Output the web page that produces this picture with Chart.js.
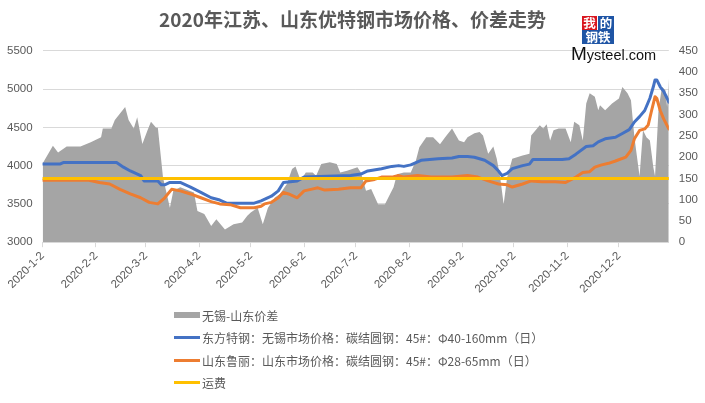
<!DOCTYPE html>
<html>
<head>
<meta charset="utf-8">
<script src="https://cdn.jsdelivr.net/npm/chart.js@4.4.1/dist/chart.umd.min.js"></script>
<style>
html,body{margin:0;padding:0;background:#fff;}
#wrap{position:relative;width:705px;height:403px;overflow:hidden;background:#fff;}
#c{position:absolute;left:0;top:0;}
#legend{position:absolute;left:174px;top:304px;font-family:"Noto Sans CJK SC";font-size:12px;color:#595959;}
.li{display:flex;align-items:center;height:22.5px;white-space:nowrap;}
.sw{width:26px;margin-right:2px;}
#logo{position:absolute;left:570px;top:15px;width:90px;height:52px;}
.lg{position:absolute;color:#fff;font-family:"Noto Sans CJK SC";font-size:12.5px;line-height:14px;text-align:center;font-weight:bold;}
#mys{position:absolute;left:1px;top:28px;font-family:"Liberation Sans";color:#111;white-space:nowrap;}
</style>
</head>
<body>
<div id="wrap">
  <canvas id="c" width="705" height="403"></canvas>
  <div id="legend"></div>
  <div id="logo">
    <div class="lg" style="left:12px;top:1px;width:15px;height:14px;background:#d9161f;">我</div>
    <div class="lg" style="left:28px;top:1px;width:16px;height:14px;background:#1f55a5;">的</div>
    <div class="lg" style="left:12px;top:15px;width:32px;height:14px;background:#1f55a5;">钢铁</div>
    <div id="mys"><span style="font-size:19px;">M</span><span style="font-size:14.5px;">ysteel.com</span></div>
  </div>
</div>
<script>
// ---------- data ----------
const title = '2020年江苏、山东优特钢市场价格、价差走势';
const tickLabels = ['2020-1-2','2020-2-2','2020-3-2','2020-4-2','2020-5-2','2020-6-2','2020-7-2','2020-8-2','2020-9-2','2020-10-2','2020-11-2','2020-12-2'];
const seriesNames = ['无锡-山东价差','东方特钢：无锡市场价格：碳结圆钢：45#：Φ40-160mm（日）','山东鲁丽：山东市场价格：碳结圆钢：45#：Φ28-65mm（日）','运费'];

const spreadDates = [
 '2020-01-02','2020-01-08','2020-01-11','2020-01-16','2020-01-24','2020-01-30',
 '2020-02-05','2020-02-06','2020-02-11','2020-02-13','2020-02-19','2020-02-21','2020-02-24','2020-02-26','2020-02-29',
 '2020-03-03','2020-03-05','2020-03-08','2020-03-09','2020-03-12','2020-03-16','2020-03-18','2020-03-22','2020-03-30',
 '2020-04-01','2020-04-05','2020-04-09','2020-04-12','2020-04-17','2020-04-22','2020-04-27','2020-04-30',
 '2020-05-02','2020-05-06','2020-05-09','2020-05-12','2020-05-16','2020-05-19','2020-05-23','2020-05-26','2020-05-28','2020-05-31',
 '2020-06-03','2020-06-07','2020-06-09','2020-06-12','2020-06-17','2020-06-21','2020-06-23','2020-06-27',
 '2020-07-03','2020-07-05','2020-07-08','2020-07-11','2020-07-15','2020-07-19','2020-07-22','2020-07-24','2020-07-26','2020-07-30',
 '2020-08-03','2020-08-06','2020-08-08','2020-08-12','2020-08-16','2020-08-20','2020-08-23','2020-08-27','2020-08-31',
 '2020-09-03','2020-09-05','2020-09-09','2020-09-12','2020-09-14','2020-09-17','2020-09-20','2020-09-22','2020-09-24','2020-09-26','2020-09-28',
 '2020-10-01','2020-10-07','2020-10-11','2020-10-12','2020-10-17','2020-10-19','2020-10-21','2020-10-23','2020-10-25','2020-10-28',
 '2020-11-01','2020-11-04','2020-11-06','2020-11-09','2020-11-11','2020-11-13','2020-11-15','2020-11-18','2020-11-20','2020-11-21','2020-11-24','2020-11-28',
 '2020-12-02','2020-12-04','2020-12-07','2020-12-09','2020-12-11','2020-12-14','2020-12-16','2020-12-18','2020-12-20','2020-12-22','2020-12-23','2020-12-25','2020-12-27','2020-12-29','2020-12-30','2020-12-31'];
const spreadValues = [
 185,227,211,225,225,235,
 247,267,267,287,318,287,267,294,231,
 263,283,269,269,152,81,121,129,117,
 73,66,38,54,30,42,46,62,
 70,81,42,81,105,113,137,172,178,145,
 164,164,156,184,188,184,164,168,
 176,164,121,125,89,89,113,129,160,164,
 164,192,223,247,247,230,247,267,239,
 235,247,256,259,251,208,225,196,152,89,152,
 196,204,208,251,275,267,277,239,263,267,
 267,235,283,275,239,326,350,342,310,322,310,326,
 338,365,350,334,247,155,263,247,239,176,155,310,365,358,318,385];

const wuxiDates = [
 '2020-01-02','2020-01-12','2020-01-14','2020-02-14','2020-02-18','2020-02-22','2020-02-28',
 '2020-03-01','2020-03-09','2020-03-11','2020-03-13','2020-03-16','2020-03-22','2020-03-28',
 '2020-04-03','2020-04-09','2020-04-14','2020-04-18',
 '2020-05-04','2020-05-08','2020-05-14','2020-05-18','2020-05-21','2020-05-29',
 '2020-06-02','2020-06-29',
 '2020-07-05','2020-07-09','2020-07-17','2020-07-23','2020-07-27','2020-07-30',
 '2020-08-03','2020-08-09','2020-08-19','2020-08-27','2020-08-31',
 '2020-09-05','2020-09-09','2020-09-15','2020-09-20','2020-09-23','2020-09-25','2020-09-28',
 '2020-10-01','2020-10-07','2020-10-11','2020-10-13','2020-10-30',
 '2020-11-03','2020-11-07','2020-11-13','2020-11-17','2020-11-20','2020-11-24','2020-11-30',
 '2020-12-04','2020-12-08','2020-12-11','2020-12-14','2020-12-17','2020-12-20','2020-12-22','2020-12-23','2020-12-24','2020-12-26','2020-12-28','2020-12-30','2020-12-31'];
const wuxiValues = [
 4020,4020,4040,4040,3980,3930,3870,
 3800,3800,3750,3750,3780,3780,3720,
 3650,3580,3550,3510,
 3510,3540,3600,3670,3780,3800,
 3850,3870,
 3890,3930,3960,3990,4000,3990,
 4010,4070,4090,4100,4120,
 4120,4110,4070,4000,3930,3870,3900,
 3960,4000,4020,4080,4080,
 4090,4150,4250,4260,4310,4350,4370,
 4420,4470,4570,4640,4720,4880,5030,5120,5120,5030,4970,4880,4830];

const shandongDates = [
 '2020-01-02','2020-01-29','2020-02-04','2020-02-10','2020-02-16','2020-02-22','2020-02-28',
 '2020-03-04','2020-03-09','2020-03-13','2020-03-17','2020-03-22','2020-03-28',
 '2020-04-03','2020-04-09','2020-04-14','2020-04-20','2020-04-26',
 '2020-05-04','2020-05-08','2020-05-10','2020-05-14','2020-05-18','2020-05-21','2020-05-24','2020-05-29',
 '2020-06-02','2020-06-06','2020-06-10','2020-06-14','2020-06-22','2020-06-29',
 '2020-07-05','2020-07-08','2020-07-13','2020-07-17','2020-07-23','2020-07-27','2020-07-30',
 '2020-08-07','2020-08-15','2020-08-27',
 '2020-09-05','2020-09-11','2020-09-17','2020-09-23','2020-09-28',
 '2020-10-01','2020-10-07','2020-10-12','2020-10-18','2020-10-26',
 '2020-11-01','2020-11-07','2020-11-11','2020-11-15','2020-11-18','2020-11-22','2020-11-26','2020-11-30',
 '2020-12-06','2020-12-09','2020-12-11','2020-12-14','2020-12-17','2020-12-19','2020-12-21','2020-12-23','2020-12-24','2020-12-26','2020-12-28','2020-12-31'];
const shandongValues = [
 3810,3810,3780,3760,3690,3630,3580,
 3520,3500,3580,3690,3670,3630,
 3580,3530,3500,3490,3450,
 3450,3470,3500,3520,3580,3650,3630,3580,
 3670,3690,3710,3680,3690,3710,
 3710,3800,3820,3850,3850,3870,3850,
 3870,3850,3850,
 3870,3850,3800,3760,3750,
 3720,3760,3800,3790,3790,
 3780,3850,3910,3920,3980,4010,4030,4060,
 4110,4200,4350,4460,4480,4530,4720,4900,4880,4720,4610,4480];

const freightDates = ['2020-01-02','2020-12-31'];
const freightValues = [150,150];

// ---------- helpers ----------
const START = Date.UTC(2020,0,2);
function dayOf(s){const p=s.split('-').map(Number);return (Date.UTC(p[0],p[1]-1,p[2])-START)/86400000;}
function pts(dates, vals){return dates.map((d,i)=>({x:dayOf(d),y:vals[i]}));}
const tickDays = tickLabels.map(dayOf);
const labelByDay = {}; tickDays.forEach((d,i)=>labelByDay[d]=tickLabels[i]);

const C_GRAY='#A5A5A5', C_BLUE='#4472C4', C_ORANGE='#ED7D31', C_YELLOW='#FFC000', C_TEXT='#595959', C_GRID='#D9D9D9';
const tickFont = {family:'Liberation Sans', size:11.5};

const chart = new Chart(document.getElementById('c'), {
  type:'line',
  data:{datasets:[
    {label:seriesNames[0], data:pts(spreadDates,spreadValues), yAxisID:'y1', fill:'start', backgroundColor:C_GRAY, borderColor:C_GRAY, borderWidth:0, pointRadius:0, order:4},
    {label:seriesNames[1], data:pts(wuxiDates,wuxiValues), yAxisID:'y', borderColor:C_BLUE, backgroundColor:C_BLUE, borderWidth:3, pointRadius:0, fill:false, order:3},
    {label:seriesNames[2], data:pts(shandongDates,shandongValues), yAxisID:'y', borderColor:C_ORANGE, backgroundColor:C_ORANGE, borderWidth:3, pointRadius:0, fill:false, order:2},
    {label:seriesNames[3], data:pts(freightDates,freightValues), yAxisID:'y1', borderColor:C_YELLOW, backgroundColor:C_YELLOW, borderWidth:3, pointRadius:0, fill:false, order:1}
  ]},
  options:{
    responsive:false, animation:false,
    layout:{padding:{left:-3, right:-3, top:0, bottom:105}},
    elements:{line:{tension:0, borderJoinStyle:'round', borderCapStyle:'round'}},
    plugins:{
      legend:{display:false}, tooltip:{enabled:false},
      title:{display:true, text:title, color:C_TEXT, font:{family:'Noto Sans CJK SC', size:19, weight:'bold'}, padding:{top:8, bottom:20}}
    },
    scales:{
      x:{type:'linear', min:0, max:364,
        afterBuildTicks:(s)=>{s.ticks=tickDays.map(v=>({value:v}));},
        afterFit:(s)=>{s.paddingLeft=0; s.paddingRight=0;},
        ticks:{autoSkip:false, minRotation:45, maxRotation:45, color:C_TEXT, font:tickFont, padding:2,
          callback:(v)=>labelByDay[v]||''},
        grid:{display:true, drawOnChartArea:false, drawTicks:true, tickLength:5, color:C_GRID},
        border:{display:true, color:C_GRID}
      },
      y:{position:'left', min:3000, max:5500,
        ticks:{stepSize:500, color:C_TEXT, font:tickFont, padding:10, callback:(v)=>String(v)},
        grid:{color:C_GRID, drawTicks:false}, border:{display:false}
      },
      y1:{position:'right', min:0, max:450,
        ticks:{stepSize:50, color:C_TEXT, font:tickFont, padding:10, callback:(v)=>String(v)},
        grid:{display:false, drawTicks:false}, border:{display:false}
      }
    }
  }
});

// HTML legend built from the chart's datasets
const lg = document.getElementById('legend');
chart.data.datasets.forEach((ds,i)=>{
  const row=document.createElement('div'); row.className='li';
  const sw=document.createElement('div'); sw.className='sw';
  sw.style.height = i===0 ? '6px' : '3px';
  sw.style.background = i===0 ? ds.backgroundColor : ds.borderColor;
  const tx=document.createElement('span'); tx.textContent=ds.label;
  row.appendChild(sw); row.appendChild(tx); lg.appendChild(row);
});
</script>
</body>
</html>
